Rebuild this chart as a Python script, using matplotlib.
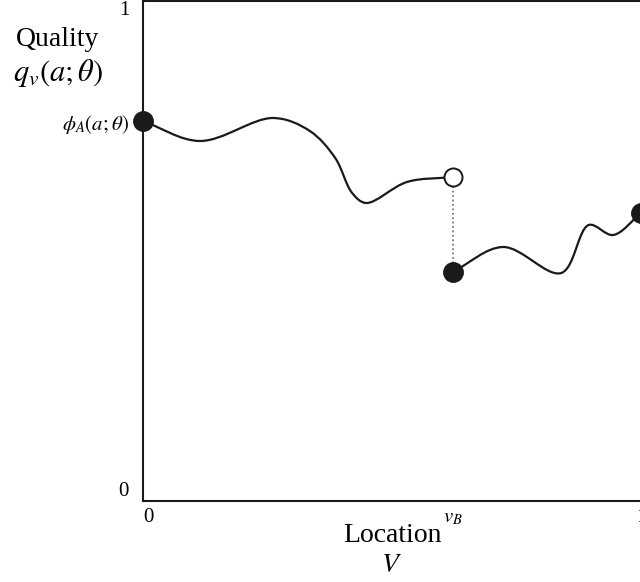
import matplotlib
matplotlib.use("Agg")
import matplotlib.pyplot as plt
import numpy as np
from matplotlib.path import Path
from matplotlib.patches import PathPatch

plt.rcParams['font.family'] = ['Liberation Serif', 'DejaVu Serif']
plt.rcParams['mathtext.fontset'] = 'stix'

# knots of the quality profile, left of the break and right of it
v_b = 0.622
left_x = [0.0, 0.114, 0.261, 0.335, 0.386, 0.420, 0.448, 0.530, v_b]
left_y = [0.760, 0.720, 0.766, 0.740, 0.686, 0.616, 0.596, 0.638, 0.648]
right_x = [v_b, 0.723, 0.840, 0.895, 0.944, 1.0]
right_y = [0.458, 0.508, 0.456, 0.552, 0.532, 0.576]

x_ticks = [0, v_b, 1]
x_ticklabels = ['0', r'$v_B$', '1']


def smooth_path(xs, ys):
    # centripetal Catmull-Rom through the knots, as cubic Bezier segments
    p = np.column_stack([xs, ys])
    p = np.vstack([2 * p[0] - p[1], p, 2 * p[-1] - p[-2]])
    d = np.sqrt(np.linalg.norm(np.diff(p, axis=0), axis=1))
    t = np.concatenate([[0], np.cumsum(d)])

    def tangent(i):
        return ((p[i] - p[i - 1]) / (t[i] - t[i - 1])
                - (p[i + 1] - p[i - 1]) / (t[i + 1] - t[i - 1])
                + (p[i + 1] - p[i]) / (t[i + 1] - t[i]))

    verts = [p[1]]
    codes = [Path.MOVETO]
    for i in range(1, len(p) - 2):
        h = t[i + 1] - t[i]
        c1 = p[i] + tangent(i) * h / 3
        c2 = p[i + 1] - tangent(i + 1) * h / 3
        verts += [c1, c2, p[i + 1]]
        codes += [Path.CURVE4] * 3
    return Path(verts, codes)


fig = plt.figure(figsize=(6.4, 5.82), dpi=100)
ax = fig.add_axes([143 / 640, 1 - 501 / 582, 498 / 640, 500 / 582])
ax.set_xlim(0, 1)
ax.set_ylim(0, 1)

for xs, ys in [(left_x, left_y), (right_x, right_y)]:
    ax.add_patch(PathPatch(smooth_path(xs, ys), fill=False, lw=1.6,
                           color='#1a1a1a', clip_on=False, zorder=3))

ax.plot([v_b, v_b], [right_y[0], left_y[-1]], ls=':', color='#666666', lw=1.2, zorder=2)
ax.plot([0, v_b, 1], [left_y[0], right_y[0], right_y[-1]], 'o', ms=14,
        color='#1a1a1a', clip_on=False, zorder=4)
ax.plot([v_b], [left_y[-1]], 'o', ms=13, mfc='white', mec='#1a1a1a', mew=1.4,
        clip_on=False, zorder=4)

for s in ax.spines.values():
    s.set_linewidth(1.5)
    s.set_color('#1a1a1a')
ax.spines['right'].set_visible(False)

ax.set_xticks(x_ticks)
ax.set_xticklabels(x_ticklabels, fontsize=15)
ax.get_xticklabels()[0].set_ha('left')
ax.set_yticks([0, left_y[0], 1])
ax.set_yticklabels(['0', r'$\phi_A(a;\theta)$', '1'], fontsize=15)
ax.tick_params(axis='x', length=0, pad=5)
ax.tick_params(axis='y', length=0, pad=10)
ax.get_yticklabels()[0].set_va('bottom')
ax.get_yticklabels()[2].set_va('top')

fig.text(58 / 640, 1 - 40 / 582, 'Quality', ha='center', va='center', fontsize=20)
fig.text(58 / 640, 1 - 73 / 582, r'$q_v(a;\theta)$', ha='center', va='center', fontsize=22)
fig.text(392 / 640, 1 - 535 / 582, 'Location', ha='center', va='center', fontsize=20)
fig.text(392 / 640, 1 - 565 / 582, r'$V$', ha='center', va='center', fontsize=20)

fig.savefig('out.png', dpi=100)
